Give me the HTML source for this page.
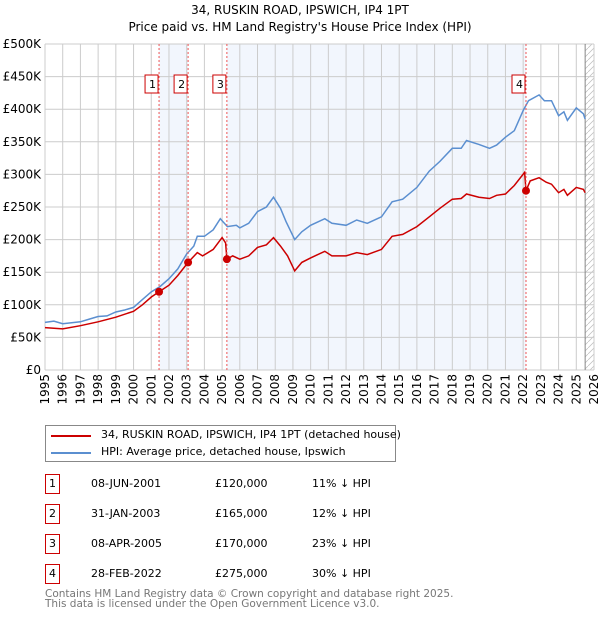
<!DOCTYPE html>
<html><head><meta charset="utf-8"><style>
body{margin:0;background:#fff;font-family:"DejaVu Sans","Liberation Sans",sans-serif;}
#wrap{position:relative;width:600px;height:620px;overflow:hidden}
.t{position:absolute;font-size:11px;color:#000;white-space:nowrap}
.box{position:absolute;width:13px;height:18px;border:1px solid #c00;font-size:11px;text-align:center;line-height:18px;background:#fff}
svg text{font-family:"DejaVu Sans","Liberation Sans",sans-serif}
</style></head><body><div id="wrap">
<div class="t" style="left:0;width:600px;text-align:center;top:2px;font-size:12px;line-height:17px">34, RUSKIN ROAD, IPSWICH, IP4 1PT<br>Price paid vs. HM Land Registry's House Price Index (HPI)</div>
<svg id="chart" width="600" height="420" style="position:absolute;left:0;top:0"></svg>
<div style="position:absolute;left:45px;top:425px;width:349px;height:35px;border:1px solid #888">
<div style="position:absolute;left:5px;top:9px;width:40px;height:2px;background:#c00"></div>
<div class="t" style="left:55px;top:2px">34, RUSKIN ROAD, IPSWICH, IP4 1PT (detached house)</div>
<div style="position:absolute;left:5px;top:26px;width:40px;height:2px;background:#5b8fd0"></div>
<div class="t" style="left:55px;top:19px">HPI: Average price, detached house, Ipswich</div>
</div>
<div id="table"></div>
<div class="t" style="left:45px;top:589px;color:#777;line-height:10px;font-size:10.5px">Contains HM Land Registry data © Crown copyright and database right 2025.<br>This data is licensed under the Open Government Licence v3.0.</div>
</div>
<script>
const hpiX=[1995,1995.5,1996,1997,1997.5,1998,1998.5,1999,1999.5,2000,2000.5,2001,2001.5,2002,2002.5,2003,2003.4,2003.6,2004,2004.5,2004.9,2005.3,2005.8,2006,2006.5,2007,2007.5,2007.9,2008.3,2008.6,2009.1,2009.5,2010,2010.8,2011.2,2012,2012.6,2013.2,2014,2014.6,2015.2,2016,2016.7,2017.3,2018,2018.5,2018.8,2019.5,2020.1,2020.5,2021,2021.5,2022,2022.3,2022.9,2023.2,2023.6,2024,2024.3,2024.5,2025,2025.4,2025.5];
const hpiY=[73,75,71,74,78,82,83,89,92,96,108,120,128,140,155,178,190,205,205,215,232,220,222,218,225,243,250,265,248,228,200,212,222,232,225,222,230,225,235,258,262,280,305,320,340,340,352,346,340,345,357,367,398,413,422,413,413,390,396,383,402,393,385];
const propX=[1995,1996,1997,1998,1999,2000,2000.5,2001,2001.44,2002,2002.5,2003.08,2003.6,2003.9,2004.5,2005,2005.2,2005.27,2005.6,2006,2006.5,2007,2007.5,2007.9,2008.3,2008.7,2009.1,2009.5,2010,2010.8,2011.2,2012,2012.6,2013.2,2014,2014.6,2015.2,2016,2016.7,2017.3,2018,2018.5,2018.8,2019.5,2020.1,2020.5,2021,2021.5,2022.08,2022.16,2022.4,2022.9,2023.3,2023.6,2024,2024.3,2024.5,2025,2025.4,2025.5];
const propY=[65,63,68,74,81,90,100,112,120,130,145,165,180,175,185,203,195,170,175,170,175,188,192,203,190,175,152,165,172,182,175,175,180,177,185,205,208,220,235,248,262,263,270,265,263,268,270,283,303,275,290,295,288,285,272,277,268,280,277,272];
const saleLabels=["1","2","3","4"];
const saleX=[2001.44,2003.08,2005.27,2022.16];
const saleY=[120,165,170,275];
const saleDates=["08-JUN-2001","31-JAN-2003","08-APR-2005","28-FEB-2022"];
const salePrices=["£120,000","£165,000","£170,000","£275,000"];
const saleDiffs=["11% ↓ HPI","12% ↓ HPI","23% ↓ HPI","30% ↓ HPI"];
const yTicks=[0,50,100,150,200,250,300,350,400,450,500];
const yTickLabels=["£0","£50K","£100K","£150K","£200K","£250K","£300K","£350K","£400K","£450K","£500K"];
const xTicks=[1995,1996,1997,1998,1999,2000,2001,2002,2003,2004,2005,2006,2007,2008,2009,2010,2011,2012,2013,2014,2015,2016,2017,2018,2019,2020,2021,2022,2023,2024,2025,2026];
const L=45,R=594,T=44,B=370,X0=1995,X1=2026,Ymax=500,dataEnd=2025.5;
const sx=v=>L+(v-X0)/(X1-X0)*(R-L), sy=v=>B-v/Ymax*(B-T);
const svg=document.getElementById('chart'),NS='http://www.w3.org/2000/svg';
function mk(tag,at,name,par){const e=document.createElementNS(NS,tag);for(const k in at)e.setAttribute(k,at[k]);


(par||svg).appendChild(e);return e;}
const defs=mk('defs',{},'defs');
const pat=mk('pattern',{id:'hatch',width:6,height:6,patternUnits:'userSpaceOnUse'},'hatch-pattern',defs);
mk('path',{d:'M0,6 L6,0',stroke:'#bbb','stroke-width':0.7},'hatch-line',pat);
mk('rect',{x:sx(saleX[0]),y:T,width:sx(saleX[1])-sx(saleX[0]),height:B-T,fill:'#f2f6fd'},'shade-1-2');
mk('rect',{x:sx(saleX[2]),y:T,width:sx(saleX[3])-sx(saleX[2]),height:B-T,fill:'#f2f6fd'},'shade-3-4');
mk('rect',{x:sx(dataEnd),y:T,width:R-sx(dataEnd),height:B-T,fill:'url(#hatch)'},'future-hatch');
yTicks.forEach((v,i)=>{mk('line',{x1:L,x2:R,y1:sy(v),y2:sy(v),stroke:'#ccc'},'y-gridline');
const t=mk('text',{x:L-4,y:sy(v)+4,'text-anchor':'end','font-size':12,fill:'#000'},'y-tick-label');t.textContent=yTickLabels[i];});
xTicks.forEach(v=>{mk('line',{x1:sx(v),x2:sx(v),y1:T,y2:B,stroke:'#ccc'},'x-gridline');
const t=mk('text',{x:0,y:0,'text-anchor':'end','font-size':12,fill:'#000',transform:`translate(${sx(v)+4},${B+4}) rotate(-90)`},'x-tick-label');t.textContent=v;});
mk('line',{x1:sx(dataEnd),x2:sx(dataEnd),y1:T,y2:B,stroke:'#888','stroke-width':1},'data-end-line');
function path(xs,ys){return xs.map((x,i)=>(i?'L':'M')+sx(x).toFixed(1)+','+sy(ys[i]).toFixed(1)).join('');}
mk('path',{d:path(hpiX,hpiY),fill:'none',stroke:'#5b8fd0','stroke-width':1.5},'hpi-line');
mk('path',{d:path(propX,propY),fill:'none',stroke:'#c00','stroke-width':1.5},'property-price-line');
saleX.forEach((x,i)=>{mk('line',{x1:sx(x),x2:sx(x),y1:T,y2:B,stroke:'#e55','stroke-dasharray':'2,2'},'sale-marker-line');
mk('circle',{cx:sx(x),cy:sy(saleY[i]),r:4,fill:'#c00'},'sale-point');
mk('rect',{x:sx(x)-15+1,y:75,width:13,height:18,fill:'#fff',stroke:'#c00'},'sale-label-box');
const t=mk('text',{x:sx(x)-7.5+1,y:88,'text-anchor':'middle','font-size':11,fill:'#000'},'sale-label');t.textContent=saleLabels[i];});
const tb=document.getElementById('table');
saleLabels.forEach((l,i)=>{const y=474+i*30;
tb.insertAdjacentHTML('beforeend',`<div class="box" style="left:45px;top:${y}px">${l}</div>
<div class="t" style="left:91px;top:${y+3}px">${saleDates[i]}</div>
<div class="t" style="left:215px;top:${y+3}px">${salePrices[i]}</div>
<div class="t" style="left:312px;top:${y+3}px">${saleDiffs[i]}</div>`);});
</script></body></html>
